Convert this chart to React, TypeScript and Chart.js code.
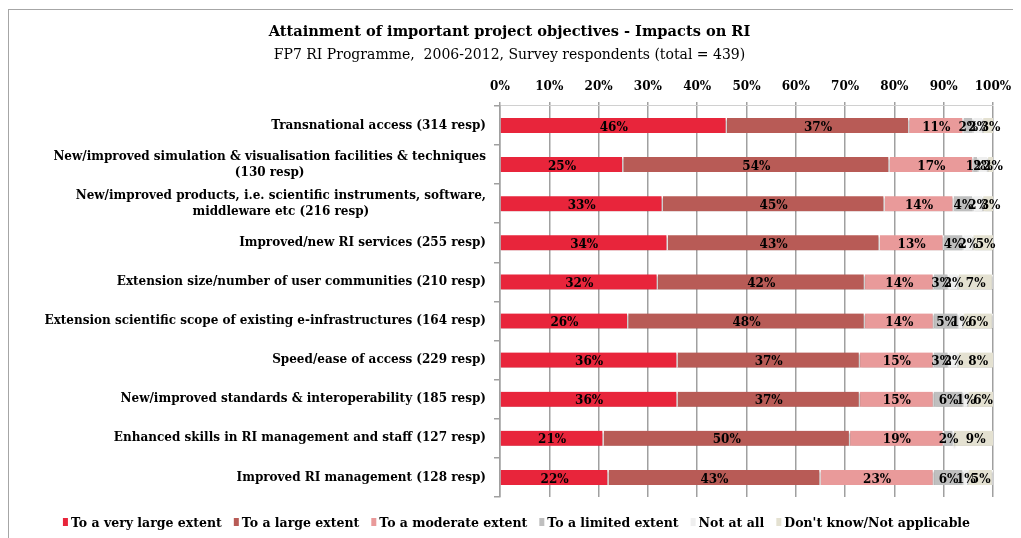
import React, { useEffect, useRef } from "react";
import { Chart, registerables } from "chart.js";

Chart.register(...registerables);

const categories: (string | string[])[] = [
  "Transnational access (314 resp)",
  ["New/improved simulation & visualisation facilities & techniques", "(130 resp)"],
  ["New/improved products, i.e. scientific instruments, software,", "middleware etc (216 resp)"],
  "Improved/new RI services (255 resp)",
  "Extension size/number of user communities (210 resp)",
  "Extension scientific scope of existing e-infrastructures (164 resp)",
  "Speed/ease of access (229 resp)",
  "New/improved standards & interoperability (185 resp)",
  "Enhanced skills in RI management and staff (127 resp)",
  "Improved RI management (128 resp)",
];

const seriesNames = [
  "To a very large extent",
  "To a large extent",
  "To a moderate extent",
  "To a limited extent",
  "Not at all",
  "Don't know/Not applicable",
];

const veryLarge = [46, 25, 33, 34, 32, 26, 36, 36, 21, 22];
const large = [37, 54, 45, 43, 42, 48, 37, 37, 50, 43];
const moderate = [11, 17, 14, 13, 14, 14, 15, 15, 19, 23];
const limited = [2, 1, 4, 4, 3, 5, 3, 6, 2, 6];
const notAtAll = [2, 2, 2, 2, 2, 1, 2, 1, 0, 1];
const dontKnow = [3, 2, 3, 5, 7, 6, 8, 6, 9, 5];

const xTickLabels = ["0%", "10%", "20%", "30%", "40%", "50%", "60%", "70%", "80%", "90%", "100%"];

const seriesColors = ["#E8253B", "#B85B56", "#E99A9A", "#BFBFBF", "#EFEFEF", "#E4E1D1"];

const TITLE = "Attainment of important project objectives - Impacts on RI";
const SUBTITLE = "FP7 RI Programme,  2006-2012, Survey respondents (total = 439)";

const FONT = "'DejaVu Serif', Georgia, serif";

const overlayPlugin = {
  id: "overlay",
  beforeDatasetsDraw(chart: any) {
    const ctx = chart.ctx;
    ctx.save();
    ctx.shadowColor = "rgba(0,0,0,0.28)";
    ctx.shadowOffsetX = 1;
    ctx.shadowOffsetY = 2;
    ctx.shadowBlur = 2;
  },
  afterDatasetsDraw(chart: any) {
    const ctx = chart.ctx;
    ctx.restore();
    ctx.save();
    ctx.font = `bold 12px ${FONT}`;
    ctx.fillStyle = "#000";
    ctx.textAlign = "center";
    ctx.textBaseline = "middle";
    chart.data.datasets.forEach((ds: any, d: number) => {
      const meta = chart.getDatasetMeta(d);
      meta.data.forEach((el: any, i: number) => {
        const v = ds.data[i];
        if (!v) return;
        const p = el.getProps(["x", "y", "base"], true);
        ctx.fillText(v + "%", (p.x + p.base) / 2, p.y + 2);
      });
    });
    ctx.restore();
  },
  afterDraw(chart: any) {
    const ctx = chart.ctx;
    const yScale = chart.scales.y;
    // category labels (block right-aligned, lines centred)
    ctx.save();
    ctx.font = `bold 12px ${FONT}`;
    ctx.fillStyle = "#000";
    ctx.textAlign = "center";
    ctx.textBaseline = "middle";
    const right = yScale.right - 14;
    chart.data.labels.forEach((lab: any, i: number) => {
      const lines: string[] = Array.isArray(lab) ? lab : [lab];
      const maxW = Math.max(...lines.map((l) => ctx.measureText(l).width));
      const cx = right - maxW / 2;
      const y = yScale.getPixelForTick(i);
      lines.forEach((l, j) => {
        ctx.fillText(l, cx, y + (j - (lines.length - 1) / 2) * 16);
      });
    });
    ctx.restore();

    // legend
    ctx.save();
    ctx.font = `bold 12.5px ${FONT}`;
    ctx.textBaseline = "middle";
    ctx.textAlign = "left";
    const boxW = 5;
    const boxH = 8;
    const gap = 3;
    const spacing = 12;
    const widths = seriesNames.map((n) => boxW + gap + ctx.measureText(n).width);
    const total = widths.reduce((a, b) => a + b, 0) + spacing * (widths.length - 1);
    let x = (chart.width - total) / 2 + 2;
    const ly = 516;
    seriesNames.forEach((n, k) => {
      ctx.fillStyle = seriesColors[k];
      ctx.fillRect(x, ly - 6, boxW, boxH);
      ctx.fillStyle = "#000";
      ctx.fillText(n, x + boxW + gap, ly);
      x += widths[k] + spacing;
    });
    ctx.restore();
  },
};

export default function App() {
  const ref = useRef<HTMLCanvasElement | null>(null);

  useEffect(() => {
    if (!ref.current) return;
    const seriesData = [veryLarge, large, moderate, limited, notAtAll, dontKnow];
    const chart = new Chart(ref.current, {
      type: "bar",
      data: {
        labels: categories as any,
        datasets: seriesNames.map((name, k) => ({
          label: name,
          data: seriesData[k],
          backgroundColor: seriesColors[k],
          borderColor: "#ffffff",
          borderWidth: { left: 0, right: 1.5, top: 0, bottom: 0 } as any,
          borderSkipped: false as any,
          barThickness: 15,
        })),
      },
      options: {
        indexAxis: "y",
        responsive: false,
        animation: false,
        layout: { padding: { left: 18, right: 28, top: 0, bottom: 41 } },
        plugins: {
          legend: { display: false },
          tooltip: { enabled: false },
          title: {
            display: true,
            text: TITLE,
            color: "#000",
            font: { family: FONT, size: 14.6, weight: "bold", lineHeight: 1.2 },
            padding: { top: 15.2, bottom: 6 },
          },
          subtitle: {
            display: true,
            text: SUBTITLE,
            color: "#000",
            font: { family: FONT, size: 14, weight: "normal", lineHeight: 1.2 },
            padding: { top: 0, bottom: 0 },
          },
        },
        scales: {
          x: {
            position: "top",
            stacked: true,
            min: 0,
            max: 100,
            afterFit(scale: any) {
              scale.height = 42.4;
            },
            ticks: {
              stepSize: 10,
              padding: 8,
              color: "#000",
              font: { family: FONT, size: 12, weight: "bold" },
              callback: (_v: any, i: number) => xTickLabels[i],
            },
            grid: { color: "#A0A0A0", lineWidth: 1.5, tickLength: 4, drawTicks: true },
            border: { display: true, color: "#D0D0D0", width: 1 },
          },
          y: {
            stacked: true,
            afterFit(scale: any) {
              scale.width = 474;
            },
            ticks: { display: false },
            grid: {
              drawOnChartArea: false,
              drawTicks: true,
              tickLength: 6,
              color: "#A0A0A0",
              lineWidth: 1.5,
              offset: true,
            },
            border: { display: true, color: "#A0A0A0", width: 1.5 },
          },
        },
      },
      plugins: [overlayPlugin],
    });
    return () => chart.destroy();
  }, []);

  return (
    <div style={{ position: "relative", width: 1013, height: 530 }}>
      <div
        style={{
          position: "absolute",
          left: 0,
          top: 1,
          right: 0,
          bottom: 0,
          borderLeft: "1px solid #A6A6A6",
          borderTop: "1px solid #A6A6A6",
        }}
      />
      <canvas ref={ref} width={1013} height={530} style={{ position: "absolute", left: 0, top: 0 }} />
    </div>
  );
}
